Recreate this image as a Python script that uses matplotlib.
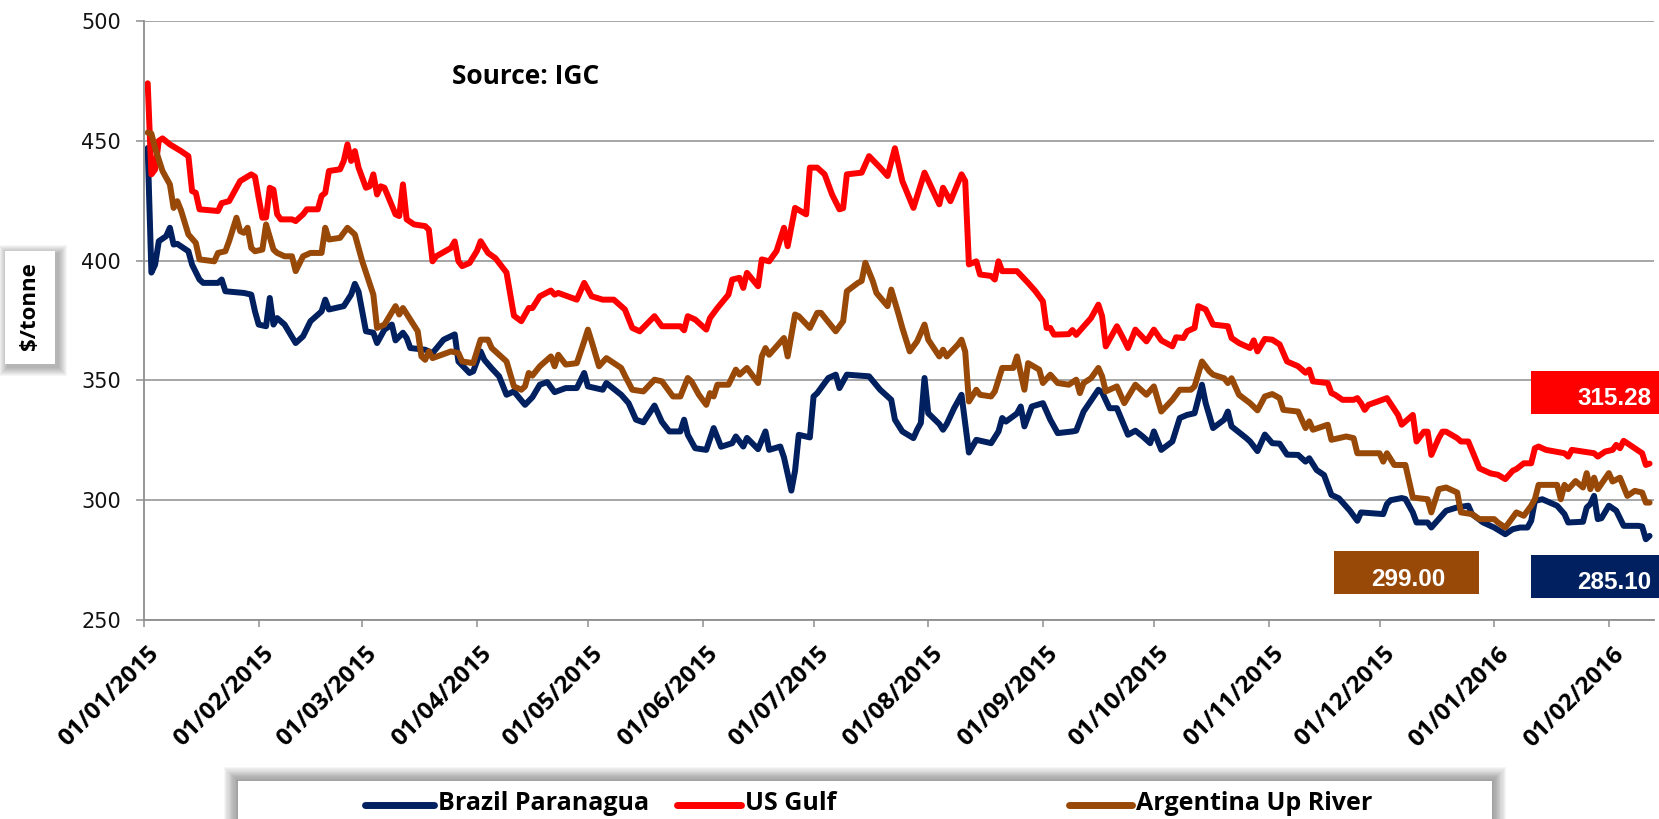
import matplotlib
matplotlib.use("Agg")
import matplotlib.pyplot as plt
import matplotlib.dates as mdates
from matplotlib.patches import Rectangle
from matplotlib.lines import Line2D
from matplotlib.transforms import ScaledTranslation
import pandas as pd

# days after 01/01/2015
brazil_day = [1, 2, 3, 4, 6, 7, 8, 9, 12, 13, 15, 16, 20, 21, 22, 27, 29, 30, 31, 33,
              34, 35, 36, 38, 41, 43, 45, 48, 49, 50, 54, 56, 57, 58, 60, 62, 63, 65, 67, 68,
              70, 71, 72, 76, 78, 81, 84, 85, 88, 89, 91, 92, 94, 96, 98, 100, 103, 105, 107, 109,
              111, 114, 117, 119, 120, 124, 125, 129, 131, 133, 135, 138, 140, 142, 145, 146, 147, 149, 152, 154,
              156, 159, 160, 162, 163, 166, 168, 169, 172, 173, 175, 176, 177, 180, 181, 182, 185, 187, 188, 190,
              196, 199, 202, 203, 205, 208, 209, 210, 211, 212, 215, 216, 217, 219, 221, 223, 225, 229, 231, 232,
              233, 236, 237, 238, 240, 243, 245, 247, 251, 252, 254, 258, 259, 261, 263, 266, 268, 270, 272, 273,
              275, 278, 280, 282, 284, 286, 287, 289, 292, 293, 294, 298, 299, 301, 303, 305, 307, 309, 312, 314,
              315, 317, 319, 321, 323, 326, 328, 329, 335, 336, 337, 340, 341, 343, 344, 347, 348, 350, 352, 355,
              358, 359, 362, 365, 368, 370, 372, 374, 375, 376, 378, 382, 384, 385, 389, 390, 391, 392, 393, 394,
              396, 398, 400, 404, 405, 406, 407]
brazil_price = [447, 395, 398.3, 408.1, 410.2, 413.7, 406.7, 407, 403.9, 398.3, 392.1, 390.7, 390.7, 392.1, 387.2, 386.5, 385.8, 378.8, 373.3, 372.6,
                384.4, 373.3, 376, 373.3, 365.6, 368.4, 374.7, 378.8, 383.7, 379.6, 381, 385.8, 390.3, 387, 370.5, 369.9, 365.6, 371.2, 373.3, 366.7,
                369.9, 367.7, 363.5, 362.8, 361.4, 367, 369.2, 357.9, 353.1, 353.8, 362.1, 358.6, 355, 351.7, 344, 345.4, 339.8, 343, 348.2, 349.3,
                345.1, 346.8, 346.8, 353.1, 347.5, 346.1, 348.9, 344, 340.5, 333.6, 332.5, 339.5, 332.7, 328.7, 328.7, 333.6, 327.3, 321.7, 321, 330.1,
                322.3, 323.8, 326.6, 322.4, 326, 321.3, 328.7, 321, 322.4, 317.9, 304, 312.3, 327.3, 326.2, 343.3, 344.7, 351, 352.4, 346.8, 352.4,
                351.7, 346.1, 341.9, 333.6, 328.7, 325.9, 329.4, 332.2, 351, 336.3, 331.8, 329.4, 331.8, 338.4, 344, 319.9, 325.2, 323.8, 328.7, 334.3,
                332.8, 336.2, 339.1, 330.8, 339.1, 340.5, 333.6, 328, 328.7, 329, 337, 346.1, 345, 338.4, 338.4, 327.3, 329, 326.6, 323.8, 328.7,
                321, 324.5, 334.3, 335.6, 336.3, 348.2, 340.5, 330.1, 333.6, 337, 330.8, 325.9, 324.5, 320.5, 327.4, 323.8, 323.6, 319, 318.9, 316.1,
                317.5, 312.6, 310.5, 302.2, 300.8, 295.6, 291.4, 294.9, 294.2, 298.4, 300, 300.9, 300.5, 294.9, 290.7, 290.7, 288.6, 292.1, 295.6, 297,
                297.7, 294.2, 290.7, 288.6, 285.8, 287.9, 288.6, 288.6, 291.4, 299.7, 300.4, 297.7, 294.2, 290.7, 291, 296.9, 298.4, 301.8, 292.1, 292.5,
                297.7, 295.6, 289.3, 289.3, 289, 283.7, 285.1]

gulf_day = [1, 2, 3, 4, 5, 7, 10, 12, 13, 14, 15, 20, 21, 23, 26, 29, 30, 31, 32, 33,
            34, 35, 36, 37, 40, 41, 43, 44, 47, 48, 49, 50, 53, 54, 55, 56, 57, 58, 60, 61,
            62, 63, 64, 65, 68, 69, 70, 71, 73, 76, 77, 78, 79, 83, 84, 85, 86, 88, 90, 91,
            93, 95, 98, 100, 102, 104, 105, 107, 110, 111, 112, 117, 119, 121, 124, 127, 130, 132, 134, 138,
            140, 145, 146, 147, 149, 152, 153, 155, 158, 159, 161, 162, 163, 166, 167, 169, 171, 173, 174, 176,
            179, 180, 182, 184, 186, 188, 189, 190, 194, 196, 199, 201, 203, 205, 208, 211, 215, 216, 218, 221,
            222, 223, 225, 226, 229, 230, 231, 232, 236, 239, 241, 243, 244, 245, 246, 250, 251, 252, 256, 258,
            259, 260, 263, 265, 266, 268, 271, 273, 275, 278, 279, 281, 282, 284, 285, 287, 289, 293, 294, 296,
            299, 300, 301, 303, 305, 307, 309, 312, 314, 315, 316, 320, 321, 322, 324, 327, 328, 329, 330, 331,
            336, 339, 340, 343, 344, 346, 347, 348, 350, 351, 352, 355, 356, 358, 361, 364, 366, 368, 370, 371,
            373, 375, 376, 377, 379, 384, 385, 386, 392, 393, 395, 397, 398, 399, 400, 403, 405, 406, 407]
gulf_price = [474, 436, 438, 450, 451, 448.5, 445.7, 443.6, 429, 428.3, 421.4, 420.7, 424, 424.8, 433.2, 436, 435, 426.2, 417.9, 418,
              430.4, 429.6, 419.3, 417.2, 417.2, 416.5, 419.3, 421.4, 421.4, 427, 428.3, 437.4, 438.1, 441.6, 448.5, 441.6, 445.7, 438.8, 430.4, 431,
              436, 427.6, 431, 430.4, 419.3, 418.6, 431.8, 417.2, 415.1, 414.4, 412.9, 399.7, 401.8, 405.3, 408, 399.7, 397.7, 399, 404, 408.1,
              403.2, 401, 395, 377, 374.7, 380.2, 380.2, 385.1, 387.5, 385.8, 386.5, 383.7, 390.7, 385.1, 383.7, 383.7, 379.6, 371.9, 370.5, 376.8,
              372.6, 372.6, 370.9, 376.8, 375.4, 371.2, 376, 380.2, 385.8, 392.1, 392.8, 388.6, 394.9, 389.3, 400.5, 399.7, 404, 413.7, 406, 422,
              419.3, 438.8, 438.8, 436, 427.6, 421.4, 421.9, 436, 436.7, 443.6, 438.8, 435.3, 446.9, 433.2, 422, 436.7, 423.5, 430.4, 424.8, 436,
              433.2, 398.4, 399.7, 394.2, 393.6, 392.1, 399.7, 395.6, 395.6, 390.7, 387.2, 383, 371.9, 371.9, 369.1, 369.3, 371, 369, 376, 381.6,
              376.8, 364.2, 372.6, 366.7, 363.5, 371.2, 366.3, 371.2, 366.7, 364.2, 368, 367.7, 370.5, 371.9, 381, 379.6, 373.3, 372.6, 367.7, 365.6,
              363.5, 366.7, 362.1, 367.3, 367, 365, 357.9, 355.9, 353.2, 354.5, 349.6, 348.9, 344.7, 344, 341.9, 341.9, 342.6, 340.5, 337.7, 339.8,
              342.6, 335.6, 331.5, 335.6, 324.5, 328.6, 328.6, 318.9, 325.9, 328.6, 328.6, 325.9, 324.5, 324.5, 313.3, 311.2, 310.6, 308.8, 312.3, 313,
              315.4, 315.4, 321.7, 322.4, 321, 319.6, 318.2, 321, 319.6, 318.2, 320.3, 321, 323.1, 321.7, 324.8, 321.7, 319.6, 314.7, 315.28]

argentina_day = [1, 2, 3, 5, 7, 8, 9, 10, 12, 14, 15, 19, 20, 22, 23, 25, 26, 27, 28, 29,
                 30, 32, 33, 35, 36, 38, 40, 41, 43, 45, 48, 49, 50, 53, 55, 57, 59, 62, 63, 65,
                 68, 69, 70, 74, 75, 76, 77, 78, 83, 85, 86, 89, 91, 93, 94, 96, 98, 100, 102, 103,
                 104, 105, 107, 110, 111, 112, 114, 117, 119, 120, 121, 123, 125, 129, 130, 132, 135, 138, 140, 143,
                 145, 147, 148, 150, 152, 153, 154, 155, 158, 160, 161, 163, 166, 167, 168, 169, 171, 173, 174, 176,
                 177, 180, 182, 183, 187, 189, 190, 193, 194, 195, 197, 198, 201, 202, 204, 205, 207, 209, 211, 212,
                 215, 216, 217, 220, 221, 222, 223, 225, 226, 229, 230, 232, 235, 236, 238, 239, 242, 243, 245, 247,
                 250, 252, 253, 254, 256, 258, 259, 260, 263, 265, 268, 271, 273, 275, 278, 280, 283, 284, 286, 288,
                 289, 292, 293, 294, 296, 299, 301, 303, 305, 307, 308, 312, 314, 315, 316, 320, 321, 325, 327, 328,
                 334, 335, 336, 338, 341, 343, 347, 348, 350, 352, 355, 356, 359, 361, 365, 366, 368, 371, 373, 375,
                 376, 377, 382, 383, 384, 385, 387, 389, 390, 391, 392, 393, 396, 397, 399, 401, 403, 405, 406, 407]
argentina_price = [453.4, 453, 447, 437.4, 431.8, 422, 424.8, 421, 410.9, 407.4, 400.5, 399.7, 403.2, 403.9, 408.1, 417.9, 412.3, 411.6, 413.7, 405.3,
                   403.9, 404.6, 415.1, 404.6, 403.2, 401.8, 401.8, 395.6, 401.8, 403.2, 403.2, 413.7, 408.8, 409.5, 413.7, 410.9, 399.7, 385.8, 371.9, 373.3,
                   381, 377.5, 380.2, 370.5, 360, 358.6, 362.1, 359.3, 362.1, 361.4, 357.9, 357.2, 367, 367, 363.5, 360.7, 357.9, 347.5, 346.1, 347.5,
                   353.1, 352, 355.9, 360, 355.9, 360.7, 356.6, 357.2, 366.3, 371.2, 366.3, 355.9, 359.3, 355.2, 352, 346.1, 345.4, 350.3, 349.6, 343.3,
                   343.3, 351, 349.6, 344, 339.8, 344.7, 343.3, 348.2, 348.2, 354.5, 352.4, 355.2, 348.9, 360, 363.5, 360.7, 364.2, 367.7, 360, 377.5,
                   376.8, 371.9, 378.2, 378.2, 370.5, 374.7, 387.2, 390.7, 391.5, 399.1, 391.5, 386.5, 381, 387.9, 377.5, 371.9, 362.1, 366.3, 373.3, 367,
                   360, 362.8, 360, 364.9, 367, 362, 341.2, 346.1, 344, 343.3, 345.4, 355.2, 355.2, 360, 346.1, 357.2, 354.5, 348.9, 352.4, 348.9,
                   348.2, 350.3, 344.7, 348.9, 350.9, 355.2, 351.7, 345.4, 347.5, 340.5, 348.2, 344, 347.5, 337, 341.9, 346.1, 346.1, 347.5, 357.9, 353.8,
                   352.4, 350.9, 348.9, 350.9, 344, 340.5, 337.5, 343.3, 344.3, 342.6, 337.7, 337, 330.1, 332.9, 329.4, 331.5, 325.2, 326.6, 325.9, 319.6,
                   319.6, 316.1, 319.6, 314.7, 314.7, 301.1, 300.4, 294.9, 304.6, 305.3, 303.2, 294.9, 294.2, 292.1, 292.1, 290.7, 288.6, 294.9, 293.5, 297.7,
                   300.4, 306.4, 306.4, 300.4, 306.4, 304.6, 308, 305.3, 311.3, 304.6, 309.4, 304.6, 311.3, 307.8, 309.4, 301.8, 303.9, 303.2, 299, 299.0]

series_names = ["Brazil Paranagua", "US Gulf", "Argentina Up River"]
series_colors = ["#002060", "#FF0000", "#984807"]
last_labels = ["285.10", "315.28", "299.00"]

W, H = 1659, 819
start = pd.Timestamp("2015-01-01")


def to_dates(days):
    return start + pd.to_timedelta(days, unit="D")


fig = plt.figure(figsize=(W / 100, H / 100), dpi=100)
ax = fig.add_axes([144 / W, 1 - 620 / H, 1510 / W, 599 / H])

for days, prices, col in zip([brazil_day, gulf_day, argentina_day],
                             [brazil_price, gulf_price, argentina_price], series_colors):
    ax.plot(to_dates(days), prices, color=col, lw=4.3, solid_joinstyle="round", solid_capstyle="round")

ax.set_ylim(250, 500)
ax.set_yticks(range(250, 501, 50))
ax.set_xlim(start, start + pd.Timedelta(days=408.2))
ax.xaxis.set_major_locator(mdates.MonthLocator())
ax.xaxis.set_major_formatter(mdates.DateFormatter("%d/%m/%Y"))

grid_col = "#8e8e8e"
ax.grid(axis="y", color=grid_col, lw=1.1)
ax.set_axisbelow(True)
for side in ["top", "right"]:
    ax.spines[side].set_visible(False)
for side in ["left", "bottom"]:
    ax.spines[side].set_color(grid_col)
    ax.spines[side].set_linewidth(1.3)

ax.tick_params(axis="y", length=5.5, width=1.1, color=grid_col, pad=11, labelsize=15, labelcolor="#111111")
ax.tick_params(axis="x", length=5, width=1.1, color=grid_col, pad=11)
for lab in ax.get_yticklabels():
    lab.set_fontfamily("DejaVu Sans")
for lab in ax.get_xticklabels():
    lab.set_rotation(45)
    lab.set_ha("right")
    lab.set_va("top")
    lab.set_rotation_mode("anchor")
    lab.set_fontfamily("Open Sans")
    lab.set_fontweight("bold")
    lab.set_fontsize(17.5)
    lab.set_transform(lab.get_transform() + ScaledTranslation(3 / 100, 0, fig.dpi_scale_trans))

fig.text(452 / W, 1 - 77 / H, "Source: IGC", fontsize=19, fontweight="bold",
         family="Open Sans", ha="left", va="center")


def fig_rect(x0, y0, x1, y1, **kw):
    r = Rectangle((x0 / W, 1 - y1 / H), (x1 - x0) / W, (y1 - y0) / H,
                  transform=fig.transFigure, **kw)
    fig.add_artist(r)
    return r


def soft_shadow(x0, y0, x1, y1, dx=3, dy=3, spread=9, steps=9):
    for i in range(steps, 0, -1):
        d = spread * i / steps
        fig_rect(x0 - d + dx, y0 - d + dy, x1 + d + dx, y1 + d + dy,
                 facecolor="black", edgecolor="none", alpha=0.035)


# y-axis title box
soft_shadow(5, 251, 55, 364)
fig_rect(5, 251, 55, 364, facecolor="white", edgecolor="none")
fig.text(30 / W, 1 - 306 / H, "$/tonne", rotation=90, fontsize=16, fontweight="bold",
         family="Open Sans", ha="center", va="center")

# legend box at the bottom
soft_shadow(238, 781, 1492, 840, dx=0, dy=0, spread=14, steps=12)
fig_rect(238, 781, 1492, 840, facecolor="white", edgecolor="none")
legend_line_x = [(365, 434), (677, 741), (1069, 1132)]
for (lx0, lx1), name, col in zip(legend_line_x, series_names, series_colors):
    fig.add_artist(Line2D([lx0 / W, lx1 / W], [1 - 805 / H, 1 - 805 / H], color=col, lw=5,
                          solid_capstyle="round", transform=fig.transFigure))
    fig.text((lx1 + 4) / W, 1 - 804 / H, name, fontsize=18, fontweight="bold",
             family="Open Sans", ha="left", va="center")

# last-value boxes (axes fraction)
box_pos = [(0.9185, 0.0367, "right", 0.9985, 0.0618),
           (0.9185, 0.344, "right", 0.9985, 0.369),
           (0.788, 0.0434, "center", 0.837, 0.0668)]
box_w = [0.0848, 0.0848, 0.0958]
for (bx, by, ha, tx, ty), bw, col, lab in zip(box_pos, box_w, series_colors, last_labels):
    ax.add_patch(Rectangle((bx, by), bw, 0.0718, transform=ax.transAxes,
                           facecolor=col, edgecolor="none", clip_on=False, zorder=5))
    ax.text(tx, ty, lab, transform=ax.transAxes, color="white", fontsize=17.5,
            fontweight="bold", family="Liberation Sans", ha=ha, va="center", zorder=6)

fig.savefig("out.png", dpi=100)
